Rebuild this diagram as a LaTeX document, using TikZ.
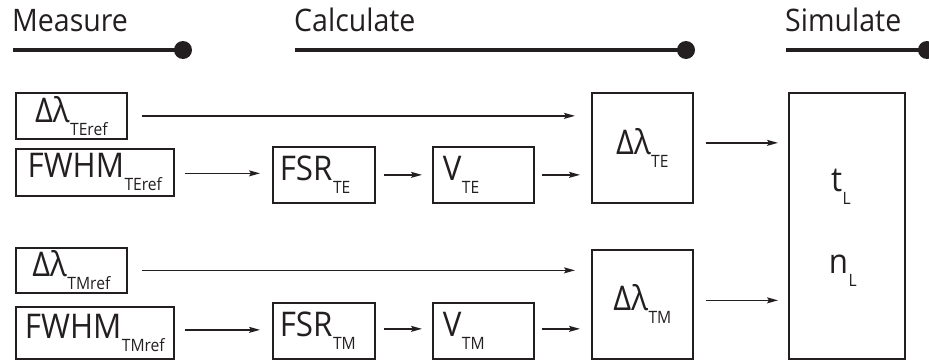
\documentclass[tikz,border=0pt]{standalone}
\usepackage{fontspec}
\setmainfont{Open Sans}[FakeStretch=0.92]
\usetikzlibrary{arrows.meta,calc}
\definecolor{ink}{RGB}{35,31,32}
% lowered subscript in a smaller size
\newcommand{\lowsub}[1]{\kern0.5pt\lower13pt\hbox{\fontsize{17}{17}\selectfont #1}}
\newcommand{\dlam}{Δλ}
\begin{document}
\begin{tikzpicture}[x=1pt,y=-1pt,
  every node/.style={text=ink},
  head/.style={anchor=base west, inner sep=0pt, font=\fontsize{31}{31}\selectfont},
  hline/.style={draw=ink, line width=3.6pt},
  box/.style={draw=ink, line width=1.7pt, anchor=north west, inner sep=0pt,
    font=\fontsize{34}{34}\selectfont},
  leftbox/.style={box, align=left, inner xsep=#1},
  arr/.style={draw=ink, line width=1.4pt, -{Stealth[length=11pt,width=6pt,inset=2pt]}},
  lab/.style={anchor=base, inner sep=0pt, font=\fontsize{34}{34}\selectfont}
]
\useasboundingbox (0,0) rectangle (929,362);

% stage headings with their bars
\node[head] (hmeas) at (12,31) {Measure};
\node[head] (hcalc) at (294,31) {Calculate};
\node[head] (hsim)  at (785,31) {Simulate};
\coordinate (m0) at (13,50);  \coordinate (m1) at (183,50);
\coordinate (c0) at (295,50); \coordinate (c1) at (686,50);
\coordinate (s0) at (786,50); \coordinate (s1) at (927,50);
\draw[hline] (m0) -- (m1); \fill[ink] (m1) circle (9);
\draw[hline] (c0) -- (c1); \fill[ink] (c1) circle (9);
\draw[hline] (s0) -- (s1); \fill[ink] (s1) circle (9);

% TE branch
\node[box, minimum width=111, minimum height=46] (dTEref) at (15,92) {\dlam\lowsub{TEref}};
\node[box, minimum width=158, minimum height=47] (fTEref) at (15,148) {FWHM\lowsub{TEref}};
\node[leftbox=7pt, text width=88pt, minimum height=56] (fsrTE) at (272,146) {FSR\lowsub{TE}};
\node[leftbox=10pt, text width=81pt, minimum height=56] (vTE) at (432,146) {V\lowsub{TE}};
\node[box, minimum width=101, minimum height=110] (dTE) at (591,92) {\dlam\lowsub{TE}};

% TM branch
\node[box, minimum width=111, minimum height=45] (dTMref) at (15,247) {\dlam\lowsub{TMref}};
\node[box, minimum width=158, minimum height=52] (fTMref) at (15,306) {FWHM\lowsub{TMref}};
\node[leftbox=7pt, text width=88pt, minimum height=56] (fsrTM) at (272,302) {FSR\lowsub{TM}};
\node[leftbox=10pt, text width=81pt, minimum height=56] (vTM) at (432,302) {V\lowsub{TM}};
\node[box, minimum width=101, minimum height=109] (dTM) at (591,249) {\dlam\lowsub{TM}};

% simulation block
\node[box, minimum width=116, minimum height=266] (sim) at (788,92) {};
\node[lab] (tL) at ($(sim.center)+(-6,-34)$) {t\lowsub{L}};
\node[lab] (nL) at ($(sim.center)+(-4,48)$) {n\lowsub{L}};

% connectors
\draw[arr] ($(dTEref.east)+(14,0)$) -- ($(dTEref.east -| dTE.west)+(-16,0)$);
\draw[arr] ($(fTEref.east)+(10,1)$) -- ($(fTEref.east -| fsrTE.west)+(-12,1)$);
\draw[arr] ($(fsrTE.east)+(8,0)$) -- ($(fsrTE.east -| vTE.west)+(-10,0)$);
\draw[arr] ($(vTE.east)+(7,0)$) -- ($(vTE.east -| dTE.west)+(-11,0)$);
\draw[arr] ($(dTE.east)+(12,-5)$) -- ($(dTE.east -| sim.west)+(-10,-5)$);

\draw[arr] ($(dTMref.east)+(14,0)$) -- ($(dTMref.east -| dTM.west)+(-16,0)$);
\draw[arr] ($(fTMref.east)+(10,-3)$) -- ($(fTMref.east -| fsrTM.west)+(-12,-3)$);
\draw[arr] ($(fsrTM.east)+(8,-2)$) -- ($(fsrTM.east -| vTM.west)+(-10,-2)$);
\draw[arr] ($(vTM.east)+(7,-2)$) -- ($(vTM.east -| dTM.west)+(-11,-2)$);
\draw[arr] ($(dTM.east)+(12,-4)$) -- ($(dTM.east -| sim.west)+(-10,-4)$);
\end{tikzpicture}
\end{document}
